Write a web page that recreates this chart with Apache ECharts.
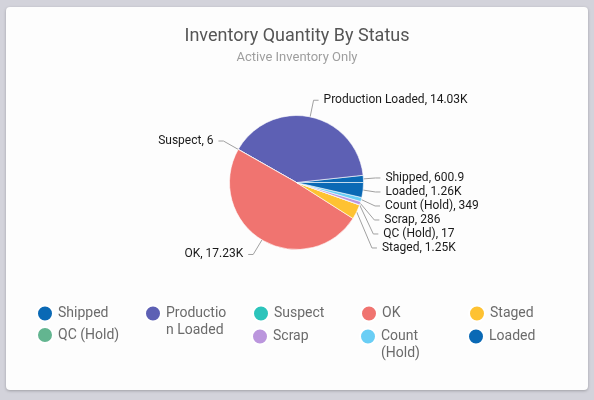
<!DOCTYPE html>
<html>
<head>
<meta charset="utf-8">
<script src="https://cdn.jsdelivr.net/npm/echarts@6.0.0/dist/echarts.min.js"></script>
<style>
  html, body { margin: 0; padding: 0; background: #d3d3db; }
  #chart {
    position: absolute; left: 6px; top: 7px; width: 582px; height: 383px;
    background: #fdfdfd; border-radius: 4px;
    box-shadow: 0 1px 3px rgba(0, 0, 0, 0.25);
  }
</style>
</head>
<body>
<div id="chart"></div>
<script>
const statuses = ["Shipped", "Production Loaded", "Suspect", "OK", "Staged", "QC (Hold)", "Scrap", "Count (Hold)", "Loaded"];
const quantities = [600.9, 14030, 6, 17230, 1250, 17, 286, 349, 1260];
const colors = ["#0a69b5", "#5d60b4", "#2cc4bb", "#f07470", "#fec232", "#63b590", "#bb96dd", "#6acef5", "#0a69b5"];
// legend grid: row 2 skips the second column (taken by the wrapped "Production Loaded")
const legendRow1 = ["Shipped", "Production Loaded", "Suspect", "OK", "Staged"];
const legendRow2a = ["QC (Hold)"];
const legendRow2b = ["Scrap", "Count (Hold)", "Loaded"];
const wrapped = ["Production Loaded", "Count (Hold)"];

const fmt = (v) => (v >= 1000 ? (v / 1000).toFixed(2) + "K" : String(v));

const baseLegend = {
  orient: "horizontal",
  icon: "circle",
  itemWidth: 16,
  itemHeight: 16,
  itemGap: 22,
  // leading blank line keeps the first line of wrapped names level with the dot
  formatter: (n) => (wrapped.includes(n) ? "\n" + n : n),
  textStyle: {
    color: "#6b6b6b",
    fontSize: 14,
    fontFamily: "Roboto",
    width: 64,
    overflow: "break",
    lineHeight: 17,
  },
};

const chart = echarts.init(document.getElementById("chart"));
chart.setOption({
  color: colors,
  title: {
    text: "Inventory Quantity By Status",
    subtext: "Active Inventory Only",
    left: "center",
    top: 15,
    itemGap: 6,
    textStyle: { fontFamily: "Roboto", fontSize: 18, fontWeight: "normal", color: "#555" },
    subtextStyle: { fontFamily: "Roboto", fontSize: 13, color: "#9e9e9e" },
  },
  legend: [
    Object.assign({}, baseLegend, { left: 25, top: 276, data: legendRow1 }),
    Object.assign({}, baseLegend, { left: 25, top: 314, data: legendRow2a }),
    Object.assign({}, baseLegend, { left: 240, top: 299, data: legendRow2b }),
  ],
  series: [
    {
      type: "pie",
      center: [290.5, 175.5],
      radius: 67,
      startAngle: 0,
      clockwise: false,
      itemStyle: { borderColor: "#fff", borderWidth: 0.6 },
      label: {
        color: "#1a1a1a",
        fontSize: 12,
        lineHeight: 12,
        fontFamily: "Roboto",
        formatter: (p) => p.name + ", " + fmt(p.value),
      },
      labelLine: { length: 17, length2: 5, lineStyle: { color: "#a0a0a0", width: 1 } },
      emphasis: { disabled: true },
      data: statuses.map((s, i) => ({ name: s, value: quantities[i] })),
    },
  ],
});
</script>
</body>
</html>
